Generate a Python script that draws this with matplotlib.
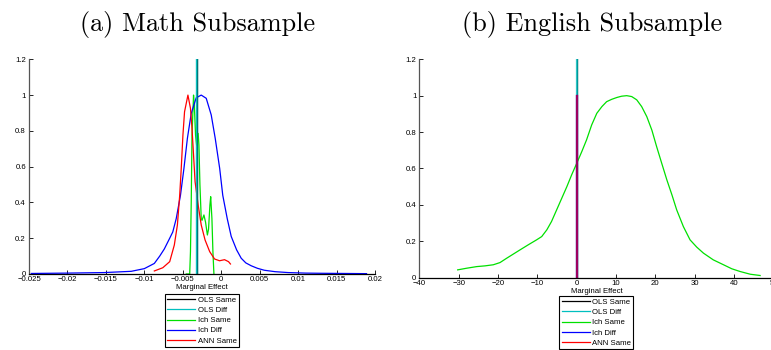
import matplotlib
matplotlib.use("Agg")
import matplotlib.pyplot as plt
from matplotlib.ticker import FuncFormatter

# ---------------- data ----------------
series_labels = ["OLS Same", "OLS Diff", "Ich Same", "Ich Diff", "ANN Same"]

# (a) Math subsample
math_ols_same = -0.0031          # vertical line position
math_ols_diff = -0.0031
math_vline_height = 1.2

math_ich_same_x = [-0.00455, -0.0041, -0.0040, -0.0039, -0.0038, -0.0036, -0.0035, -0.00334,
                   -0.0032, -0.0030, -0.0029, -0.00277, -0.0026, -0.0025, -0.00225, -0.00204,
                   -0.0018, -0.00165, -0.00147, -0.00137, -0.00121, -0.00108, -0.00095]
math_ich_same_y = [0.0, 0.0, 0.125, 0.40, 0.777, 1.0, 0.945, 0.777, 0.72, 0.786, 0.72, 0.5,
                   0.31, 0.30, 0.33, 0.29, 0.218, 0.25, 0.386, 0.432, 0.31, 0.125, 0.0]

math_ich_diff_x = [-0.0247, -0.0200, -0.0152, -0.0117, -0.0100, -0.0087, -0.0080, -0.0074,
                   -0.0067, -0.0063, -0.00585, -0.0053, -0.00485, -0.0044, -0.0039, -0.00325,
                   -0.0026, -0.00195, -0.0013, -0.00078, -0.0002, 0.0002, 0.00078, 0.0013,
                   0.0020, 0.0026, 0.0032, 0.0039, 0.0047, 0.0056, 0.0070, 0.0087, 0.0110,
                   0.0130, 0.0160, 0.0189]
math_ich_diff_y = [0.003, 0.005, 0.008, 0.015, 0.03, 0.059, 0.1, 0.14, 0.2, 0.235, 0.31, 0.44,
                   0.59, 0.758, 0.898, 0.985, 1.0, 0.982, 0.889, 0.758, 0.59, 0.44, 0.31, 0.21,
                   0.135, 0.088, 0.062, 0.046, 0.032, 0.021, 0.013, 0.008, 0.005, 0.004, 0.003,
                   0.002]

math_ann_same_x = [-0.0087, -0.0076, -0.0067, -0.0061, -0.0057, -0.0054, -0.0052, -0.00498,
                   -0.00477, -0.00433, -0.0040, -0.0038, -0.0036, -0.0034, -0.0030, -0.0026,
                   -0.0021, -0.0015, -0.00087, -0.00022, 0.00043, 0.00095, 0.0012]
math_ann_same_y = [0.017, 0.035, 0.069, 0.162, 0.274, 0.44, 0.59, 0.777, 0.907, 1.0, 0.926,
                   0.814, 0.665, 0.516, 0.386, 0.274, 0.19, 0.125, 0.084, 0.074, 0.08, 0.069,
                   0.056]

# (b) English subsample
eng_ols_same = 0.0
eng_ols_diff = 0.0
eng_ich_diff = 0.0
eng_ann_same = 0.0
eng_vline_high = 1.2
eng_vline_low = 1.0

eng_ich_same_x = [-30.25, -27.97, -25.4, -23.3, -21.2, -19.5, -17.8, -14.4, -12.3, -10.2, -8.9,
                  -7.6, -6.4, -5.1, -3.8, -2.5, -1.3, 0.0, 1.3, 2.5, 3.8, 5.1, 6.4, 7.6, 8.9,
                  10.2, 11.4, 12.7, 13.98, 15.25, 16.5, 17.8, 19.1, 20.3, 21.6, 22.9, 24.2,
                  25.4, 27.1, 28.8, 30.5, 32.2, 34.7, 37.3, 39.4, 41.5, 44.1, 46.6]
eng_ich_same_y = [0.042, 0.051, 0.06, 0.064, 0.07, 0.082, 0.106, 0.152, 0.18, 0.207, 0.225,
                  0.262, 0.308, 0.372, 0.436, 0.5, 0.564, 0.628, 0.693, 0.757, 0.839, 0.903,
                  0.94, 0.967, 0.98, 0.99, 0.997, 1.0, 0.995, 0.977, 0.94, 0.885, 0.81, 0.72,
                  0.628, 0.537, 0.454, 0.372, 0.28, 0.207, 0.167, 0.134, 0.097, 0.07, 0.048,
                  0.033, 0.018, 0.011]

titles = ["(a) Math Subsample", "(b) English Subsample"]
xlabel = "Marginal Effect"
math_xticks = [-0.025, -0.02, -0.015, -0.01, -0.005, 0, 0.005, 0.01, 0.015, 0.02]
eng_xticks = [-40, -30, -20, -10, 0, 10, 20, 30, 40, 50]
yticks = [0, 0.2, 0.4, 0.6, 0.8, 1, 1.2]

# ---------------- figure ----------------
W, H = 771, 350
fig = plt.figure(figsize=(W / 100, H / 100), dpi=100)
tick_font = "Liberation Sans"

def px_axes(l, r, top, bottom):
    return fig.add_axes([l / W, 1 - bottom / H, (r - l) / W, (bottom - top) / H])

ax1 = px_axes(29, 375, 59.3, 274)
ax2 = px_axes(419.3, 773.5, 59.3, 277.5)

fmt = FuncFormatter(lambda v, p: ("%g" % v).replace("-", "\u2212"))

for ax in (ax1, ax2):
    ax.set_ylim(0, 1.2)
    ax.set_yticks(yticks)
    ax.spines["top"].set_visible(False)
    ax.spines["right"].set_visible(False)
    ax.spines["left"].set_color("#555555")
    ax.spines["left"].set_linewidth(0.9)
    ax.spines["bottom"].set_linewidth(0.9)
    ax.tick_params(direction="in", length=3, width=0.6, labelsize=5.6, pad=1.5)
    ax.tick_params(axis="y", pad=2.2)
    ax.xaxis.set_major_formatter(fmt)
    ax.yaxis.set_major_formatter(fmt)
    ax.set_xlabel(xlabel, fontsize=5.6, family=tick_font, labelpad=1)
    ax.patch.set_alpha(0)

ax1.set_xlim(-0.025, 0.02)
ax1.set_xticks(math_xticks)
ax2.set_xlim(-40, 50)
ax2.set_xticks(eng_xticks)
for ax in (ax1, ax2):
    for lab in ax.get_xticklabels() + ax.get_yticklabels():
        lab.set_fontfamily(tick_font)

# left panel
h1 = []
h1 += ax1.plot([math_ols_same, math_ols_same], [0, math_vline_height], color="k", lw=0.9, label=series_labels[0])
h1 += ax1.plot([math_ols_diff, math_ols_diff], [0, math_vline_height], color="c", lw=1.6, alpha=0.8, label=series_labels[1])
h1 += ax1.plot(math_ich_same_x, math_ich_same_y, color="#00e000", lw=0.9, label=series_labels[2])
h1 += ax1.plot(math_ich_diff_x, math_ich_diff_y, color="b", lw=0.9, label=series_labels[3])
h1 += ax1.plot(math_ann_same_x, math_ann_same_y, color="r", lw=0.9, label=series_labels[4])
ax1.plot([math_ols_diff, math_ols_diff], [0, math_vline_height], color="c", lw=1.6, alpha=0.8)
ax1.plot([math_ols_same, math_ols_same], [0, math_vline_height], color="k", lw=0.5, alpha=0.5)

# right panel
h2 = []
h2 += ax2.plot([eng_ols_same, eng_ols_same], [0, eng_vline_high], color="k", lw=0.9, label=series_labels[0])
h2 += ax2.plot([eng_ols_diff, eng_ols_diff], [0, eng_vline_high], color="c", lw=1.6, alpha=0.8, label=series_labels[1])
h2 += ax2.plot(eng_ich_same_x, eng_ich_same_y, color="#00e000", lw=0.9, label=series_labels[2])
h2 += ax2.plot([eng_ich_diff, eng_ich_diff], [0, eng_vline_low], color="b", lw=1.6, label=series_labels[3])
h2 += ax2.plot([eng_ann_same, eng_ann_same], [0, eng_vline_low], color="r", lw=1.6, alpha=0.62, label=series_labels[4])

for ax, handles, yoff in ((ax1, h1, -0.093), (ax2, h2, -0.085)):
    leg = ax.legend(handles=handles, loc="upper center", bbox_to_anchor=(0.5, yoff),
                    prop={"family": tick_font, "size": 5.6},
                    frameon=True, fancybox=False, edgecolor="black", framealpha=1,
                    handlelength=3.6, handletextpad=0.3, labelspacing=0.36,
                    borderpad=0.3, borderaxespad=0)
    leg.get_frame().set_linewidth(0.8)
    for ln in leg.get_lines():
        ln.set_linewidth(0.9)
        ln.set_alpha(1)

# titles
fig.text(197.5 / W, 1 - 30.5 / H, titles[0], family="cmr10", fontsize=18.9,
         ha="center", va="baseline")
fig.text(592.5 / W, 1 - 30.5 / H, titles[1], family="cmr10", fontsize=18.9,
         ha="center", va="baseline")

fig.savefig("out.png", dpi=100)
